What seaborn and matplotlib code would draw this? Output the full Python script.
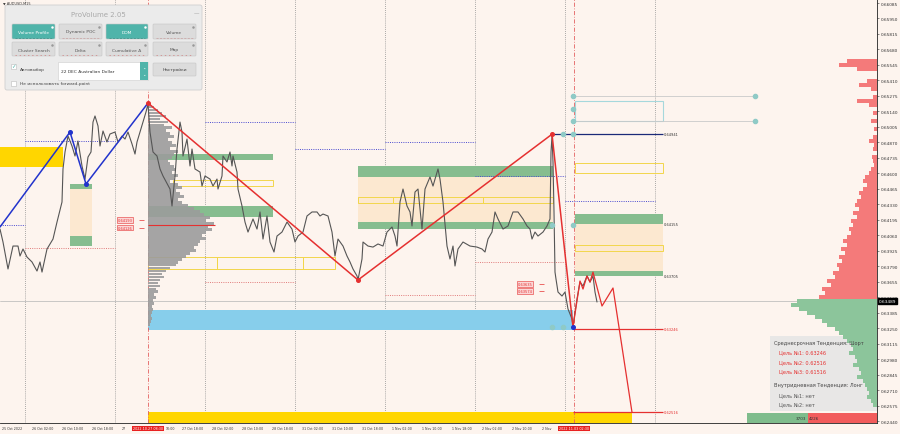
import numpy as np
import matplotlib
matplotlib.use("Agg")
import matplotlib.pyplot as plt
import matplotlib.transforms as mtransforms
from matplotlib.patches import Rectangle, FancyBboxPatch
import pandas as pd
import seaborn as sns

sns.set_theme(style="white")
plt.rcParams['font.family'] = ['DejaVu Sans']

# ---------------- data ----------------
price_bar = [0, 3, 8, 13, 18, 20, 23, 27, 32, 37, 40, 42, 47, 53, 57, 62, 63, 65, 68, 72, 75, 78, 82, 85, 88, 91,
             93, 95, 98, 100, 103, 107, 110, 115, 118, 122, 125, 128, 132, 135, 137, 140, 143, 146, 148, 150, 153,
             157, 160, 163, 170, 172, 175, 177, 180, 182, 183, 187, 190, 192, 195, 200, 202, 205, 210, 213, 217,
             218, 222, 223, 227, 230, 232, 233, 237, 238, 242, 245, 248, 253, 257, 260, 263, 267, 270, 274, 277,
             282, 287, 292, 295, 298, 303, 307, 312, 317, 320, 323, 328, 332, 335, 338, 343, 347, 350, 353, 357,
             358, 362, 363, 368, 373, 378, 383, 387, 392, 395, 397, 400, 403, 407, 410, 412, 415, 418, 422, 425,
             430, 433, 438, 440, 443, 447, 450, 453, 455, 458, 463, 470, 477, 482, 485, 488, 492, 495, 498, 503,
             508, 513, 518, 523, 527, 530, 532, 535, 538, 543, 547, 550, 551, 552, 553, 554, 555, 556, 558, 562,
             565, 568, 572, 573, 577, 580, 583, 587, 590, 593, 595, 597]
price_close = [0.64114, 0.64001, 0.63766, 0.63966, 0.63966, 0.63879, 0.63940, 0.63870, 0.63827, 0.63748, 0.63827,
               0.63739, 0.63940, 0.64027, 0.64175, 0.64350, 0.64638, 0.64786, 0.64925, 0.64838, 0.64751, 0.64882,
               0.64664, 0.64550, 0.64742, 0.64786, 0.65047, 0.65100, 0.65013, 0.64838, 0.64969, 0.64873, 0.64943,
               0.64960, 0.64873, 0.64925, 0.64899, 0.64960, 0.64856, 0.64768, 0.64873, 0.64960, 0.65047, 0.65135,
               0.65204, 0.64960, 0.64786, 0.64751, 0.64638, 0.64577, 0.64463, 0.64315, 0.64577, 0.64812, 0.65047,
               0.64960, 0.64751, 0.64899, 0.64664, 0.64812, 0.64638, 0.64611, 0.64489, 0.64577, 0.64550, 0.64489,
               0.64550, 0.64463, 0.64577, 0.64751, 0.64699, 0.64786, 0.64664, 0.64751, 0.64611, 0.64463, 0.64315,
               0.64175, 0.64088, 0.64202, 0.64114, 0.64263, 0.64027, 0.64228, 0.64001, 0.63914, 0.64053, 0.64088,
               0.64175, 0.64114, 0.64001, 0.64053, 0.64088, 0.64228, 0.64263, 0.64263, 0.64228, 0.64245, 0.64228,
               0.64088, 0.63879, 0.64027, 0.63966, 0.63879, 0.63827, 0.63766, 0.63705, 0.63670, 0.63853, 0.64001,
               0.63966, 0.63957, 0.63984, 0.63966, 0.64088, 0.64132, 0.64053, 0.63966, 0.64350, 0.64463, 0.64315,
               0.64263, 0.64141, 0.64437, 0.64463, 0.64114, 0.64463, 0.64568, 0.64489, 0.64638, 0.64550, 0.64350,
               0.63966, 0.63853, 0.63966, 0.63792, 0.63940, 0.64001, 0.63966, 0.63957, 0.63940, 0.63914, 0.64027,
               0.64088, 0.64263, 0.64202, 0.64114, 0.64141, 0.64263, 0.64263, 0.64202, 0.64141, 0.64114, 0.64027,
               0.64088, 0.64053, 0.64088, 0.64141, 0.64202, 0.64786, 0.64925, 0.64699, 0.64263, 0.63739, 0.63678,
               0.63565, 0.63530, 0.63565, 0.63417, 0.63330, 0.63269, 0.63504, 0.63652, 0.63617, 0.63705, 0.63652,
               0.63705, 0.63565, 0.63478]

zz_blue_bar = [0, 70, 86, 148]
zz_blue_price = [0.64132, 0.64960, 0.64507, 0.65213]
zz_red_bar = [148, 358, 552, 573]
zz_red_price = [0.65213, 0.63670, 0.64941, 0.63260]
proj_bar = [573, 580, 583, 587, 590, 593, 602, 613, 632]
proj_price = [0.63260, 0.63661, 0.63591, 0.63705, 0.63652, 0.63739, 0.63443, 0.63600, 0.62516]

# zones: (start bar, end bar, low, high)
gold_zones = [(0, 63, 0.64655, 0.64829), (148, 632, 0.62300, 0.62516)]
beige_zones = [(70, 92, 0.63966, 0.64507), (358, 553, 0.64114, 0.64664), (575, 663, 0.63705, 0.64245)]
green_zones = [(70, 92, 0.64463, 0.64507), (70, 92, 0.63966, 0.64053),
               (148, 273, 0.64716, 0.64768), (148, 273, 0.64219, 0.64315),
               (358, 553, 0.64568, 0.64664), (358, 553, 0.64114, 0.64175),
               (575, 663, 0.64155, 0.64245), (575, 663, 0.63705, 0.63748)]
yellow_boxes = [(173, 273, 0.64489, 0.64542), (148, 217, 0.63766, 0.63870), (217, 303, 0.63766, 0.63870),
                (303, 335, 0.63766, 0.63870), (358, 393, 0.64341, 0.64393), (393, 483, 0.64341, 0.64393),
                (483, 553, 0.64341, 0.64393), (575, 663, 0.64603, 0.64690), (575, 663, 0.63922, 0.63975)]
teal_boxes = [(575, 663, 0.65056, 0.65231)]
blue_zone = (148, 573, 0.63234, 0.63408)

day_sep = [25, 115, 205, 295, 385, 475, 565, 655]
blue_dotted = [(0, 25, 0.64149), (25, 115, 0.64882), (205, 295, 0.65047), (295, 385, 0.64812),
               (385, 475, 0.64873), (475, 565, 0.64577), (565, 655, 0.64359)]
red_dotted = [(25, 115, 0.63948), (205, 295, 0.63652), (385, 475, 0.63539), (475, 565, 0.63827)]

target_lines = [(552, 663, 0.64941, '#1c2a78'), (573, 663, 0.63246, '#e53030'), (573, 663, 0.62516, '#e53030')]
level_labels = ["0.64941", "0.64155", "0.63705", "0.63246", "0.62516"]
level_colors = ['#333333', '#333333', '#333333', '#e53030', '#e53030']
red_box_labels = [(118, "0.64193"), (118, "0.64126"), (518, "0.63635"), (518, "0.63574")]
gray_lines = [(573, 755, 0.65274), (573, 755, 0.65056)]
teal_dots_bar = [573, 573, 573, 755, 755, 563, 573, 552, 573, 552, 563]
teal_dots_price = [0.65274, 0.65165, 0.65056, 0.65274, 0.65056, 0.64941, 0.64941, 0.64149, 0.64149, 0.63260, 0.63260]

cursor_bars = [148, 574]
cursor_labels = ["2022.10.27 08:30", "2022.11.03 02:30"]
current_price = 0.63489

# left (session) profile: bins of 0.00026 from 0.65204 downward
lp_top, lp_step = 0.65204, 0.00026
lp_vol = [3, 6, 10, 14, 18, 12, 20, 16, 24, 18, 22, 26, 20, 24, 28, 22, 30, 26, 24, 20, 22, 26, 28, 24, 30, 26,
          22, 30, 34, 28, 32, 36, 30, 34, 40, 46, 52, 56, 62, 58, 66, 60, 64, 58, 54, 58, 52, 50, 46, 48, 42, 38,
          34, 30, 28, 22, 18, 14, 16, 12, 10, 12, 8, 10, 6, 8, 5, 6, 4, 5, 4, 3, 4, 3, 2]
lp_poc = 0.64149

# right profile: bins of 0.00035
rp_top, rp_step = 0.65579, 0.000349
rp_sell = [30, 38, 20, 0, 0, 10, 18, 6, 0, 4, 20, 8, 0, 4, 0, 6, 0, 3, 0, 4, 8, 3, 4, 0, 5, 4, 3, 6, 8, 12,
           14, 10, 14, 18, 16, 20, 22, 18, 24, 20, 26, 24, 28, 26, 30, 34, 30, 36, 32, 38, 35, 40, 38, 44, 42,
           50, 46, 55, 52, 58]
rp_buy = [80, 86, 78, 70, 62, 55, 50, 42, 38, 34, 30, 26, 24, 28, 22, 20, 24, 18, 16, 20, 14, 12, 10, 8, 10, 6, 4]
delta_buy, delta_sell = 3703, 4226

ytick_labels = ["0.66085", "0.65950", "0.65815", "0.65680", "0.65545", "0.65410", "0.65275", "0.65140", "0.65005",
                "0.64870", "0.64735", "0.64600", "0.64465", "0.64330", "0.64195", "0.64060", "0.63925", "0.63790",
                "0.63655", "0.63520", "0.63385", "0.63250", "0.63115", "0.62980", "0.62845", "0.62710", "0.62575",
                "0.62440"]
xtick_bars = [2, 32, 62, 92, 122, 166, 182, 212, 242, 272, 302, 332, 362, 392, 422, 452, 482, 512, 542]
xtick_labels = ["25 Oct 2022", "26 Oct 02:00", "26 Oct 10:00", "26 Oct 18:00", "27", "10:00",
                "27 Oct 18:00", "28 Oct 02:00", "28 Oct 10:00", "28 Oct 18:00", "31 Oct 02:00", "31 Oct 10:00",
                "31 Oct 18:00", "1 Nov 02:00", "1 Nov 10:00", "1 Nov 18:00", "2 Nov 02:00", "2 Nov 10:00",
                "2 Nov"]

info_lines = ["Среднесрочная Тенденция: Шорт", "Цель №1: 0.63246", "Цель №2: 0.62516", "Цель №3: 0.61516",
              "Внутридневная Тенденция: Лонг", "Цель №1: нет", "Цель №2: нет"]
info_colors = ['#444444', '#e53030', '#e53030', '#e53030', '#444444', '#555555', '#555555']

# ---------------- style ----------------
BG = '#fdf4ee'
GREEN = '#86bd8f'
BEIGE = '#fce8d0'
GOLD = '#ffd600'
RED = '#e53030'

fig = plt.figure(figsize=(9, 4.35), dpi=100)
fig.patch.set_facecolor(BG)
ax = fig.add_axes([0, 11 / 435, 877 / 900, 424 / 435])
ax.set_facecolor(BG)
ax.set_xlim(0, 877)
ax.set_ylim(0.62423, 0.66120)
for s in ['left', 'top']:
    ax.spines[s].set_visible(False)
for s in ['right', 'bottom']:
    ax.spines[s].set_color('#222222')
    ax.spines[s].set_linewidth(0.6)

ax.yaxis.tick_right()
ax.set_yticks([float(v) for v in ytick_labels])
ax.set_yticklabels(ytick_labels)
ax.tick_params(axis='y', labelsize=3.1, length=1.5, width=0.4, pad=1, colors='#333333')
ax.set_xticks(xtick_bars)
ax.set_xticklabels(xtick_labels, ha='left')
ax.tick_params(axis='x', labelsize=2.3, length=0, pad=2.5, colors='#333333')
ax.set_xlabel('')
ax.set_ylabel('')

def rect(x0, x1, lo, hi, **kw):
    ax.add_patch(Rectangle((x0, lo), x1 - x0, hi - lo, **kw))

# day separators
for b in day_sep:
    ax.axvline(b, color='#8f8f8f', lw=0.6, ls=(0, (1, 1.5)), zorder=1)

for z in beige_zones:
    rect(*z, fc=BEIGE, ec='none', zorder=1.5)
for z in green_zones:
    rect(*z, fc=GREEN, ec='none', zorder=1.6)
for z in gold_zones:
    rect(*z, fc=GOLD, ec='none', zorder=1.6)
rect(*blue_zone, fc='#87ceeb', ec='none', zorder=1.6)
for z in yellow_boxes:
    rect(*z, fc='none', ec='#f2d64b', lw=0.7, zorder=1.7)
for z in teal_boxes:
    rect(*z, fc='none', ec='#a6d8dc', lw=0.8, zorder=1.7)

# current price line
ax.axhline(current_price, color='#b5b5b5', lw=0.5, zorder=1.8)
for x0, x1, p in gray_lines:
    ax.hlines(p, x0, x1, color='#c9c9c9', lw=0.6, zorder=1.8)

for x0, x1, p in blue_dotted:
    ax.hlines(p, x0, x1, color='#4a4ad0', lw=0.7, ls=(0, (1, 1.3)), zorder=2)
for x0, x1, p in red_dotted:
    ax.hlines(p, x0, x1, color='#e07a7a', lw=0.7, ls=(0, (1, 1.3)), zorder=2)

# left session profile
lp_levels = lp_top - lp_step * np.arange(len(lp_vol))
ax.barh(lp_levels, lp_vol, left=148, height=lp_step * 0.95, color='#9c9c9c', alpha=0.9, zorder=2.2, lw=0)
ax.hlines(lp_poc, 148, 215, color=RED, lw=0.8, zorder=2.4)

# right profile
rp_sell_levels = rp_top - rp_step * np.arange(len(rp_sell))
rp_buy_levels = rp_sell_levels[-1] - rp_step * np.arange(1, len(rp_buy) + 1)
ax.barh(rp_sell_levels, rp_sell, left=877 - np.array(rp_sell), height=rp_step * 0.9, color='#f47a7a',
        zorder=2.6, lw=0)
ax.barh(rp_buy_levels, rp_buy, left=877 - np.array(rp_buy), height=rp_step * 0.9, color='#8cc59b',
        zorder=2.6, lw=0)

# price
df = pd.DataFrame({'bar': price_bar, 'close': price_close})
sns.lineplot(data=df, x='bar', y='close', ax=ax, color='#555555', lw=0.8, zorder=3, sort=False)
ax.set_xlabel('')
ax.set_ylabel('')

# zigzags
zb = pd.DataFrame({'bar': zz_blue_bar, 'p': zz_blue_price})
zr = pd.DataFrame({'bar': zz_red_bar, 'p': zz_red_price})
zp = pd.DataFrame({'bar': proj_bar, 'p': proj_price})
sns.lineplot(data=zb, x='bar', y='p', ax=ax, color='#2233cc', lw=1.1, zorder=4, sort=False)
sns.lineplot(data=zr, x='bar', y='p', ax=ax, color=RED, lw=1.1, zorder=4, sort=False)
sns.lineplot(data=zp, x='bar', y='p', ax=ax, color=RED, lw=0.9, zorder=4, sort=False)
ax.set_xlabel('')
ax.set_ylabel('')
ax.plot(zz_blue_bar[1:3], zz_blue_price[1:3], 'o', color='#2233cc', ms=2.6, zorder=5)
ax.plot(zz_red_bar[:3], zz_red_price[:3], 'o', color=RED, ms=2.6, zorder=5)
ax.plot([zz_red_bar[3]], [zz_red_price[3]], 'o', color='#2233cc', ms=2.6, zorder=5)
ax.plot(teal_dots_bar, teal_dots_price, 'o', color='#8fcac6', ms=3, zorder=5)

for x0, x1, p, c in target_lines:
    ax.hlines(p, x0, x1, color=c, lw=0.9, zorder=4.5)
for lab, c in zip(level_labels, level_colors):
    ax.text(664, float(lab), lab, fontsize=2.6, color=c, va='center', ha='left', zorder=6)

for x, lab in red_box_labels:
    ax.text(x, float(lab), lab, fontsize=2.6, color=RED, va='center', ha='left', zorder=6,
            bbox=dict(fc='#fbd6d6', ec=RED, lw=0.4, pad=0.4))
    ax.hlines(float(lab), x + 21, x + 26, color=RED, lw=0.5, zorder=6)

# cursor lines
for b in cursor_bars:
    ax.axvline(b, color='#e36060', lw=0.6, ls=(0, (5, 2, 1, 2)), zorder=2.1)

# bottom delta bar
k = 130 / (delta_buy + delta_sell)
bot = ax.get_ylim()[0]
ax.barh([bot + 0.00044], [delta_buy * k], left=877 - (delta_buy + delta_sell) * k, height=0.00088,
        color='#7fbc8c', zorder=6, lw=0)
ax.barh([bot + 0.00044], [delta_sell * k], left=877 - delta_sell * k, height=0.00088, color='#f25c5c',
        zorder=6, lw=0)
ax.text(877 - delta_sell * k - 1, bot + 0.00044, str(delta_buy), fontsize=3, ha='right', va='center',
        color='#333333', zorder=7)
ax.text(877 - delta_sell * k + 1, bot + 0.00044, str(delta_sell), fontsize=3, ha='left', va='center',
        color='#333333', zorder=7)

# current price label
tr = mtransforms.blended_transform_factory(ax.transAxes, ax.transData)
ax.text(1.002, current_price, f"{current_price:.5f}", transform=tr, fontsize=3.1, color='white', va='center',
        ha='left', zorder=10, bbox=dict(fc='black', ec='black', pad=0.6), clip_on=False)

# cursor time labels
trx = mtransforms.blended_transform_factory(ax.transData, ax.transAxes)
for b, lab in zip(cursor_bars, cursor_labels):
    ax.text(b, -0.0125, lab, transform=trx, fontsize=2.4, color='white', va='center', ha='center',
            bbox=dict(fc='#e82020', ec='none', pad=0.5), clip_on=False, zorder=10)

# ---------------- overlay (pixel coords) ----------------
ov = fig.add_axes([0, 0, 1, 1])
ov.set_xlim(0, 900)
ov.set_ylim(435, 0)
ov.axis('off')
ov.patch.set_alpha(0)

# info box (drawn inside main axes, under profile bars)
ax.add_patch(Rectangle((770, 337), 107, 75, transform=ov.transData, fc='#e6e6e6', ec='none', alpha=0.9,
                       zorder=2.5, clip_on=False))
info_y = [344, 353, 362.5, 372, 386, 396, 405]
for i, (t, c, yy) in enumerate(zip(info_lines, info_colors, info_y)):
    xx = 774 if i in (0, 4) else 779
    ov.text(xx, yy, t, fontsize=3.6, color=c, va='center', ha='left')

ov.text(3, 4, "▼ AUDUSD,M15", fontsize=2.5, color='#333333', va='center')

# ProVolume panel
ov.add_patch(FancyBboxPatch((5, 6), 197, 85, boxstyle="round,pad=0,rounding_size=2", fc='#ebebeb',
                            ec='#cfcfcf', lw=0.6))
ov.text(98, 15, "ProVolume 2.05", fontsize=5, color='#a9a9a9', ha='center', va='center')
ov.text(196, 14, "—", fontsize=4, color='#9a9a9a', ha='center', va='center')
btn_x = [(12, 55), (59, 102), (106, 148), (153, 196)]
row1 = ["Volume Profile", "Dynamic POC", "DOM", "Volume"]
row1_on = [True, False, True, False]
row2 = ["Cluster Search", "Delta", "Cumulative Δ", "Map"]
for (x0, x1), t, on in zip(btn_x, row1, row1_on):
    ov.add_patch(FancyBboxPatch((x0, 25), x1 - x0, 15, boxstyle="round,pad=0,rounding_size=1",
                                fc='#4fb4aa' if on else '#dcdcdc', ec='#c4c4c4', lw=0.4))
    ov.text((x0 + x1) / 2, 32.5, t, fontsize=3.2, color='white' if on else '#555555', ha='center',
            va='center')
    ov.plot([x1 - 3], [27.5], 'o', color='white' if on else '#999999', ms=0.8)
    ov.plot([x0 + 3, x1 - 3], [38.5, 38.5], color='#3d8f86' if on else '#c9a0a0', lw=0.5, ls=(0, (3, 2)))
for (x0, x1), t in zip(btn_x, row2):
    ov.add_patch(FancyBboxPatch((x0, 43), x1 - x0, 14, boxstyle="round,pad=0,rounding_size=1",
                                fc='#dcdcdc', ec='#c4c4c4', lw=0.4))
    ov.text((x0 + x1) / 2, 50.5, t, fontsize=3.2, color='#555555', ha='center', va='center')
    ov.plot([x1 - 3], [45.5], 'o', color='#999999', ms=0.8)
    ov.plot([x0 + 3, x1 - 3], [55.5, 55.5], color='#d08080', lw=0.5, ls=(0, (2, 4)))
# checkbox 1
ov.add_patch(Rectangle((11, 64.5), 5, 5, fc='white', ec='#bbbbbb', lw=0.4))
ov.text(13.5, 66.5, "✓", fontsize=4, color='#4fb4aa', ha='center', va='center')
ov.text(20, 70.5, "Автовыбор", fontsize=3.2, color='#444444', va='center')
ov.add_patch(Rectangle((58, 63), 90, 18, fc='white', ec='#cccccc', lw=0.4))
ov.add_patch(Rectangle((140, 63), 8, 18, fc='#4fb4aa', ec='none'))
ov.text(61, 72, "22 DEC Australian Dollar", fontsize=3.2, color='#333333', va='center')
ov.text(144, 70, "⌃", fontsize=3, color='white', ha='center', va='center')
ov.text(144, 75, "⌄", fontsize=3, color='white', ha='center', va='center')
ov.add_patch(FancyBboxPatch((153, 64), 43, 13, boxstyle="round,pad=0,rounding_size=1", fc='#dcdcdc',
                            ec='#c4c4c4', lw=0.4))
ov.text(174.5, 70.5, "Настройки", fontsize=3.2, color='#444444', ha='center', va='center')
ov.add_patch(Rectangle((11, 81.5), 5, 5, fc='white', ec='#bbbbbb', lw=0.4))
ov.text(20, 84.5, "Не использовать forward-point", fontsize=3.2, color='#444444', va='center')

fig.savefig("out.png", dpi=100, facecolor=BG)
